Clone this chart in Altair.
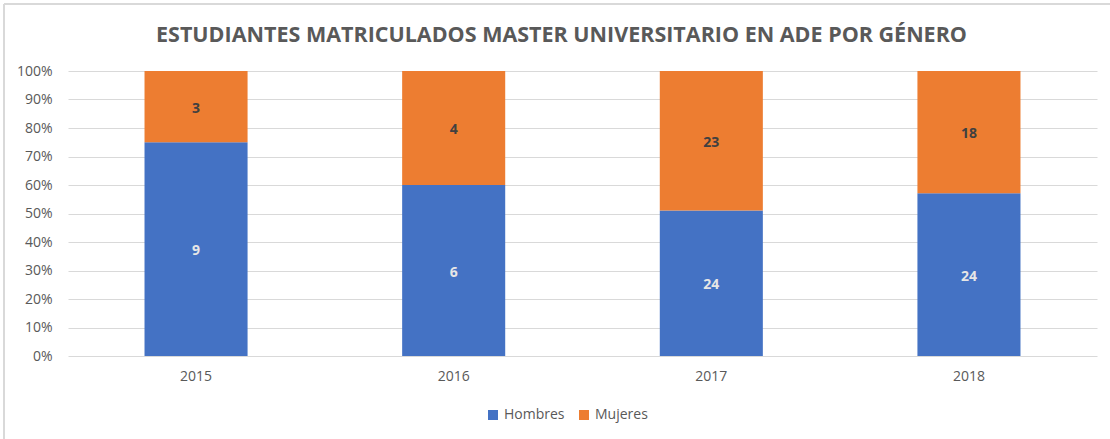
import altair as alt
import pandas as pd

years = ["2015", "2016", "2017", "2018"]
hombres = [9, 6, 24, 24]
mujeres = [3, 4, 23, 18]
generos = ["Hombres", "Mujeres"]
y_ticks = [0, 0.1, 0.2, 0.3, 0.4, 0.5, 0.6, 0.7, 0.8, 0.9, 1.0]

rows = []
for i, y in enumerate(years):
    rows.append({"year": y, "genero": "Hombres", "value": hombres[i], "ord": 0})
    rows.append({"year": y, "genero": "Mujeres", "value": mujeres[i], "ord": 1})
df = pd.DataFrame(rows)

FONT = "Open Sans"
GRAY = "#595959"
color_scale = alt.Scale(domain=generos, range=["#4472C4", "#ED7D31"])
y_scale = alt.Scale(domain=[0, 1])
x_scale = alt.Scale(paddingInner=0.6, paddingOuter=0.297)

x_axis = alt.Axis(labelAngle=0, ticks=False, domain=False, labelColor=GRAY,
                  labelFont=FONT, labelFontSize=14, labelPadding=13)
y_axis = alt.Axis(format="%", values=y_ticks, labelOverlap=False,
                  grid=True, gridColor="#d9d9d9", ticks=False, domain=False,
                  labelColor=GRAY, labelFont=FONT, labelFontSize=14, labelPadding=16)

bars = alt.Chart(df).mark_bar().encode(
    x=alt.X("year:N", title=None, sort=years, scale=x_scale, axis=x_axis),
    y=alt.Y("value:Q", stack="normalize", title=None, scale=y_scale, axis=y_axis),
    color=alt.Color("genero:N", scale=color_scale, sort=generos,
                    legend=alt.Legend(title=None, orient="none", direction="horizontal",
                                      legendX=418, legendY=337, symbolType="square",
                                      symbolSize=100, symbolStrokeWidth=0,
                                      labelFont=FONT, labelFontSize=14, labelColor=GRAY,
                                      columnPadding=12)),
    order=alt.Order("ord:Q", sort="ascending"),
)

texts = alt.Chart(df).transform_stack(
    stack="value", groupby=["year"], as_=["v0", "v1"], offset="normalize",
    sort=[alt.SortField("ord", order="ascending")]
).transform_calculate(
    mid="(datum.v0 + datum.v1) / 2"
).mark_text(font=FONT, fontSize=14, fontWeight="bold", dy=2).encode(
    x=alt.X("year:N", title=None, sort=years, scale=x_scale, axis=x_axis),
    y=alt.Y("mid:Q", title=None, scale=y_scale, axis=y_axis),
    text=alt.Text("value:Q"),
    color=alt.Color("genero:N", scale=alt.Scale(domain=generos, range=["#e6e6e6", "#404040"]),
                    legend=None),
)

border_v = alt.Chart(df).mark_rule(color="#d9d9d9", strokeWidth=1.5).encode(
    x=alt.value(-64), y=alt.value(-67), y2=alt.value(370))
border_h = alt.Chart(df).mark_rule(color="#d9d9d9", strokeWidth=1.5).encode(
    x=alt.value(-64), x2=alt.value(1050), y=alt.value(-67))

chart = alt.layer(bars, texts, border_v, border_h).resolve_scale(color="independent").properties(
    width=1029, height=285,
    autosize=alt.AutoSizeParams(type="none"),
    padding={"left": 68, "top": 71, "right": 13, "bottom": 83},
    background="white",
    title=alt.Title("ESTUDIANTES MATRICULADOS MASTER UNIVERSITARIO EN ADE POR GÉNERO",
                    font=FONT, fontSize=21.5, fontWeight="bold", color=GRAY,
                    anchor="middle", offset=-43, dx=-21),
).configure_view(stroke=None)

chart.save("out.html", embed_options={"renderer": "svg", "actions": False})
